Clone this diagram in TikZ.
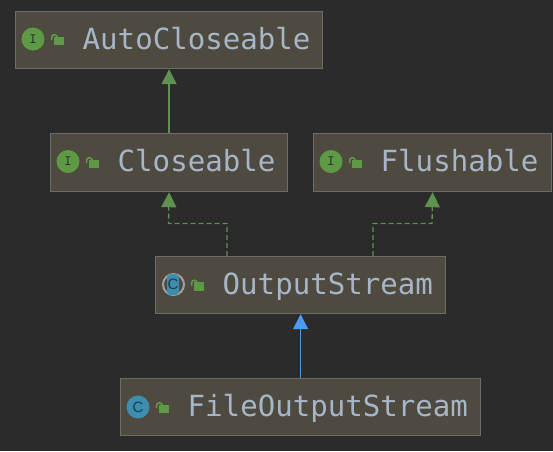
\documentclass[tikz,border=0pt]{standalone}
\usepackage{fontspec}
\usetikzlibrary{arrows.meta}
\newfontfamily\diagmono{DejaVu Sans Mono}
\newfontfamily\iconsans{Liberation Sans}
\definecolor{bgc}{HTML}{2B2B2B}
\definecolor{boxfill}{HTML}{4E4A3F}
\definecolor{boxline}{HTML}{6C6C68}
\definecolor{txtc}{HTML}{A6B6C8}
\definecolor{greenc}{HTML}{5E9A45}
\definecolor{linegreen}{HTML}{5F9150}
\definecolor{bluec}{HTML}{4C9BF2}
\definecolor{classc}{HTML}{3E8DAE}
\definecolor{inkc}{HTML}{2A3A2A}
\definecolor{inkb}{HTML}{153F55}
\definecolor{ringc}{HTML}{A0A0A0}
\tikzset{
  x=1pt,y=-1pt,
  classbox/.style={draw=boxline,line width=1.2pt,fill=boxfill,inner sep=0pt,anchor=north west},
  classname/.style={text=txtc,inner sep=0pt,anchor=base west,font=\diagmono\fontsize{29.1}{30}\selectfont},
  iconI/.style={circle,fill=greenc,minimum size=23pt,inner sep=0pt,text=inkc,font=\diagmono\fontsize{12}{12}\selectfont},
  iconC/.style={circle,fill=classc,minimum size=23pt,inner sep=0pt,text=inkb,font=\iconsans\fontsize{15}{15}\selectfont},
  iconR/.style={rounded corners=3.5pt,fill=classc,minimum width=12pt,minimum height=21pt,inner sep=0pt,text=inkb,font=\iconsans\fontsize{15}{15}\selectfont},
  ring/.style={circle,draw=ringc,line width=2pt,minimum size=21pt,inner sep=0pt},
  lockbody/.style={fill=greenc,minimum width=10pt,minimum height=8.5pt,inner sep=0pt},
  shackle/.style={draw=greenc,line width=1.6pt},
  inherit/.style={draw=linegreen,line width=1.3pt,-{Triangle[length=15pt,width=15pt,fill=linegreen]}},
  implement/.style={inherit,dash pattern=on 5pt off 3pt},
  extend/.style={draw=bluec,line width=1.3pt,-{Triangle[length=15pt,width=15pt,fill=bluec]}},
}
\newcommand{\lockat}[2]{%
  \node[lockbody] (#1) at (#2) {};
  \draw[shackle] (#1.west) ++(-2.2,-1) -- ++(0,-2.5) arc[start angle=180,end angle=360,radius=2.8] -- ++(0,1);
}
\begin{document}
\begin{tikzpicture}
\useasboundingbox[fill=bgc] (0,0) rectangle (553,451);
% boxes
\node[classbox,minimum width=307pt,minimum height=57pt] (auto) at (15,11) {};
\node[classbox,minimum width=237pt,minimum height=58pt] (close) at (50,133) {};
\node[classbox,minimum width=238pt,minimum height=58pt] (flush) at (313,133) {};
\node[classbox,minimum width=290pt,minimum height=57pt] (out) at (155,256) {};
\node[classbox,minimum width=360pt,minimum height=57pt] (file) at (120,378) {};
% names
\node[classname] (autot) at (82.5,49) {AutoCloseable};
\node[classname] (closet) at (117.5,171) {Closeable};
\node[classname] (flusht) at (380.5,171) {Flushable};
\node[classname] (outt) at (222.5,294) {OutputStream};
\node[classname] (filet) at (187.5,416) {FileOutputStream};
% icons
\node[iconI] (autoi) at (33,39) {I};
\node[iconI] (closei) at (68,161.5) {I};
\node[iconI] (flushi) at (331,161.5) {I};
\node[ring] (outr) at (173.5,284.5) {};
\node[iconR] (outi) at (173,284.5) {C};
\node[iconC] (filei) at (138,407) {C};
\lockat{autol}{59,41}
\lockat{closel}{94,164}
\lockat{flushl}{357,164}
\lockat{outl}{199,286.5}
\lockat{filel}{164,409}
% connectors
\coordinate (o1) at (227,256);
\coordinate (o2) at (373,256);
\draw[inherit] (close.north) -- (auto.south);
\draw[implement] (o1) |- (168.5,223.5) -- (close.south);
\draw[implement] (o2) |- (432,223.5) -- (flush.south);
\draw[extend] (file.north) -- (out.south);
\end{tikzpicture}
\end{document}
